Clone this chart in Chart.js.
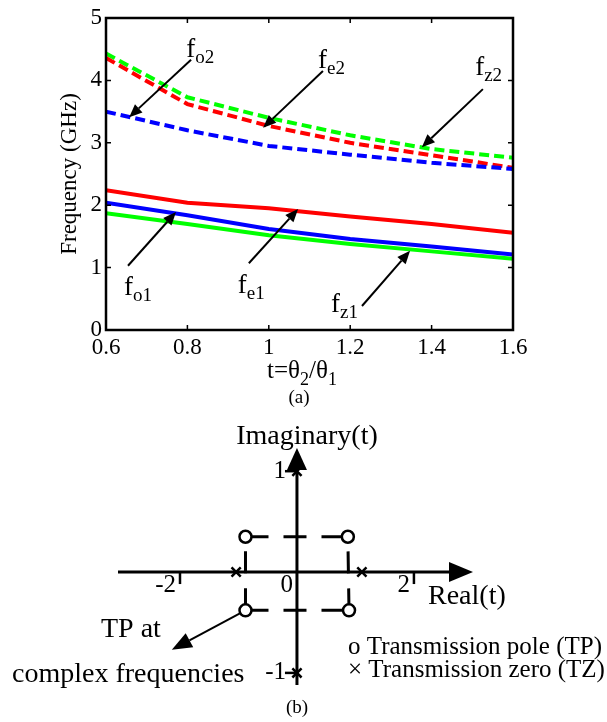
<!DOCTYPE html>
<html>
<head>
<meta charset="utf-8">
<script src="https://cdn.jsdelivr.net/npm/chart.js@4.4.1/dist/chart.umd.min.js"></script>
<style>
  html, body { margin: 0; padding: 0; background: #fff; }
  #wrapA { position: absolute; left: 0; top: 0; width: 607px; height: 410px; }
  #wrapB { position: absolute; left: 0; top: 400px; width: 607px; height: 322px; }
</style>
</head>
<body>
<div id="wrapA"><canvas id="freq"></canvas></div>
<div id="wrapB"><canvas id="plane"></canvas></div>
<script>
// (a) resonant frequencies vs t = theta2/theta1
var ratio = [0.6, 0.8, 1.0, 1.2, 1.4, 1.6];
var fo1 = [2.04, 1.84, 1.62, 1.46, 1.34, 1.21];
var fe1 = [2.24, 2.04, 1.95, 1.82, 1.70, 1.56];
var fz1 = [1.87, 1.70, 1.52, 1.38, 1.26, 1.14];
var fo2 = [3.50, 3.20, 2.95, 2.81, 2.68, 2.58];
var fe2 = [4.36, 3.62, 3.27, 3.00, 2.80, 2.60];
var fz2 = [4.43, 3.73, 3.40, 3.12, 2.90, 2.76];
var xTicks = [0.6, 0.8, 1, 1.2, 1.4, 1.6];
var yTicks = [0, 1, 2, 3, 4, 5];

// (b) poles and zeros in the t plane
var poleRe = [-0.88, 0.87, -0.88, 0.89];
var poleIm = [0.35, 0.35, -0.38, -0.38];
var zeroRe = [-1.04, 1.11, 0, 0];
var zeroIm = [0, 0, 1, -1];
var realTicks = [-2, 0, 2];
var imagTicks = [1, -1];

var SERIF = '"Liberation Serif", "Times New Roman", serif';

function pts(xs, ys) {
  return xs.map(function (x, i) { return { x: x, y: ys[i] }; });
}

function arrow(ctx, x1, y1, x2, y2, len, half) {
  var a = Math.atan2(y2 - y1, x2 - x1);
  var bx = x2 - len * Math.cos(a), by = y2 - len * Math.sin(a);
  ctx.beginPath();
  ctx.moveTo(x1, y1);
  ctx.lineTo(bx, by);
  ctx.stroke();
  ctx.beginPath();
  ctx.moveTo(x2, y2);
  ctx.lineTo(bx + half * Math.sin(a), by - half * Math.cos(a));
  ctx.lineTo(bx - half * Math.sin(a), by + half * Math.cos(a));
  ctx.closePath();
  ctx.fill();
}

// text pieces: [text, isSub]
function richText(ctx, parts, x, y, size, subSize, drop, align) {
  var w = 0;
  parts.forEach(function (p) {
    ctx.font = (p[1] ? subSize : size) + 'px ' + SERIF;
    w += ctx.measureText(p[0]).width;
  });
  var cx = align === 'center' ? x - w / 2 : x;
  ctx.textAlign = 'left';
  ctx.textBaseline = 'alphabetic';
  parts.forEach(function (p) {
    ctx.font = (p[1] ? subSize : size) + 'px ' + SERIF;
    ctx.fillText(p[0], cx, p[1] ? y + drop : y);
    cx += ctx.measureText(p[0]).width;
  });
}

// callouts in data coordinates: label anchor, arrow tail, arrow tip
var callouts = [
  { sub: 'o2', at: [0.797, 4.375], from: [0.809, 4.33], to: [0.657, 3.41] },
  { sub: 'e2', at: [1.121, 4.20], from: [1.133, 4.15], to: [0.986, 3.24] },
  { sub: 'z2', at: [1.507, 4.09], from: [1.526, 3.86], to: [1.376, 2.93] },
  { sub: 'o1', at: [0.644, 0.56], from: [0.654, 1.03], to: [0.772, 1.89] },
  { sub: 'e1', at: [0.924, 0.59], from: [0.951, 1.07], to: [1.072, 1.94] },
  { sub: 'z1', at: [1.153, 0.29], from: [1.229, 0.385], to: [1.347, 1.27] }
];

var freqDecor = {
  id: 'freqDecor',
  afterDraw: function (chart) {
    var ctx = chart.ctx, a = chart.chartArea;
    var xs = chart.scales.x, ys = chart.scales.y;
    ctx.save();
    ctx.strokeStyle = '#000';
    ctx.fillStyle = '#000';
    ctx.lineWidth = 2.5;
    ctx.strokeRect(a.left, a.top, a.right - a.left, a.bottom - a.top);
    ctx.lineWidth = 1.5;
    xTicks.forEach(function (v) {
      var px = xs.getPixelForValue(v);
      ctx.beginPath();
      ctx.moveTo(px, a.bottom); ctx.lineTo(px, a.bottom - 5);
      ctx.moveTo(px, a.top); ctx.lineTo(px, a.top + 5);
      ctx.stroke();
    });
    yTicks.forEach(function (v) {
      var py = ys.getPixelForValue(v);
      ctx.beginPath();
      ctx.moveTo(a.left, py); ctx.lineTo(a.left + 5, py);
      ctx.moveTo(a.right, py); ctx.lineTo(a.right - 5, py);
      ctx.stroke();
    });

    // callouts
    ctx.lineWidth = 2;
    callouts.forEach(function (c) {
      arrow(ctx, xs.getPixelForValue(c.from[0]), ys.getPixelForValue(c.from[1]),
        xs.getPixelForValue(c.to[0]), ys.getPixelForValue(c.to[1]), 13, 5.5);
      richText(ctx, [['f', false], [c.sub, true]],
        xs.getPixelForValue(c.at[0]), ys.getPixelForValue(c.at[1]), 27, 19, 6, 'left');
    });

    // axis titles
    ctx.save();
    ctx.translate(70, (a.top + a.bottom) / 2);
    ctx.rotate(-Math.PI / 2);
    ctx.font = '23px ' + SERIF;
    ctx.textAlign = 'center';
    ctx.textBaseline = 'middle';
    ctx.fillText('Frequency (GHz)', 0, 0);
    ctx.restore();

    richText(ctx, [['t=\u03b8', false], ['2', true], ['/\u03b8', false], ['1', true]],
      302, 378, 25, 18, 7, 'center');

    ctx.font = '19px ' + SERIF;
    ctx.textAlign = 'center';
    ctx.textBaseline = 'middle';
    ctx.fillText('(a)', 299, 398);
    ctx.restore();
  }
};

var tickFont = { family: SERIF, size: 23 };

new Chart(document.getElementById('freq'), {
  type: 'line',
  data: {
    datasets: [
      { label: 'fo1', data: pts(ratio, fo1), borderColor: '#0000ff' },
      { label: 'fe1', data: pts(ratio, fe1), borderColor: '#ff0000' },
      { label: 'fz1', data: pts(ratio, fz1), borderColor: '#00ff00' },
      { label: 'fo2', data: pts(ratio, fo2), borderColor: '#0000ff', borderDash: [10, 5] },
      { label: 'fe2', data: pts(ratio, fe2), borderColor: '#ff0000', borderDash: [10, 5] },
      { label: 'fz2', data: pts(ratio, fz2), borderColor: '#00ff00', borderDash: [10, 5] }
    ]
  },
  options: {
    responsive: true,
    maintainAspectRatio: false,
    animation: false,
    elements: {
      line: { borderWidth: 4, tension: 0, fill: false, borderCapStyle: 'butt' },
      point: { radius: 0 }
    },
    layout: { padding: { left: 0, right: 94, top: 18, bottom: 0 } },
    plugins: { legend: { display: false }, tooltip: { enabled: false } },
    scales: {
      x: {
        type: 'linear', min: 0.6, max: 1.6,
        afterBuildTicks: function (s) { s.ticks = xTicks.map(function (v) { return { value: v }; }); },
        afterFit: function (s) { s.height = 80; },
        grid: { display: false, drawTicks: false },
        border: { display: false },
        ticks: { font: tickFont, color: '#000', padding: 4, maxRotation: 0, autoSkip: false,
          callback: function (v) { return String(v); } }
      },
      y: {
        type: 'linear', min: 0, max: 5,
        afterBuildTicks: function (s) { s.ticks = yTicks.map(function (v) { return { value: v }; }); },
        afterFit: function (s) { s.width = 106; },
        grid: { display: false, drawTicks: false },
        border: { display: false },
        ticks: { font: tickFont, color: '#000', padding: 4,
          callback: function (v) { return String(v); } }
      }
    }
  },
  plugins: [freqDecor]
});

// (b) pole-zero plane
var connectors = [
  [0, 1], [2, 3], [2, 0], [3, 1]
].map(function (p) {
  var vertical = poleRe[p[0]] * poleRe[p[1]] > 0;
  return {
    data: [{ x: poleRe[p[0]], y: poleIm[p[0]] }, { x: poleRe[p[1]], y: poleIm[p[1]] }],
    borderColor: '#000', borderWidth: 3,
    borderDash: vertical ? [22, 15] : [23, 15],
    showLine: true, pointRadius: 0, order: 3
  };
});

var planeDecor = {
  id: 'planeDecor',
  beforeDatasetsDraw: function (chart) {
    var ctx = chart.ctx, a = chart.chartArea;
    var xs = chart.scales.x, ys = chart.scales.y;
    var x0 = xs.getPixelForValue(0), y0 = ys.getPixelForValue(0);
    ctx.save();
    ctx.strokeStyle = '#000';
    ctx.fillStyle = '#000';
    ctx.lineWidth = 3;
    arrow(ctx, a.left, y0, a.right, y0, 24, 10);
    arrow(ctx, x0, a.bottom, x0, a.top, 22, 10);

    ctx.lineWidth = 2.5;
    ctx.font = '25px ' + SERIF;
    ctx.textAlign = 'right';
    ctx.textBaseline = 'middle';
    realTicks.forEach(function (v) {
      var px = xs.getPixelForValue(v);
      if (v !== 0) {
        ctx.beginPath(); ctx.moveTo(px, y0); ctx.lineTo(px, y0 + 12); ctx.stroke();
      }
      ctx.fillText(String(v), px - 4, y0 + 13);
    });
    imagTicks.forEach(function (v) {
      var py = ys.getPixelForValue(v);
      ctx.beginPath(); ctx.moveTo(x0 - 12, py); ctx.lineTo(x0, py); ctx.stroke();
      ctx.fillText(String(v), x0 - 11, py);
    });

    // arrow to complex-frequency pole
    ctx.lineWidth = 2;
    arrow(ctx, xs.getPixelForValue(poleRe[2]), ys.getPixelForValue(poleIm[2]),
      xs.getPixelForValue(-2.14), ys.getPixelForValue(-0.77), 20, 8);
    ctx.restore();
  },
  afterDraw: function (chart) {
    var ctx = chart.ctx;
    ctx.save();
    ctx.fillStyle = '#000';
    ctx.textBaseline = 'middle';
    ctx.textAlign = 'center';
    ctx.font = '28px ' + SERIF;
    ctx.fillText('Imaginary(t)', 307, 37);
    ctx.textAlign = 'left';
    ctx.fillText('Real(t)', 428, 197);
    ctx.fillText('TP at', 101, 230);
    ctx.fillText('complex frequencies', 12, 275);
    ctx.font = '25px ' + SERIF;
    ctx.fillText('o Transmission pole (TP)', 348, 247);
    ctx.fillText('\u00d7 Transmission zero (TZ)', 348, 270);
    ctx.textAlign = 'center';
    ctx.font = '19px ' + SERIF;
    ctx.fillText('(b)', 297, 308);
    ctx.restore();
  }
};

new Chart(document.getElementById('plane'), {
  type: 'scatter',
  data: {
    datasets: connectors.concat([
      { label: 'TP', data: pts(poleRe, poleIm), pointStyle: 'circle', pointRadius: 6,
        borderColor: '#000', backgroundColor: '#fff', borderWidth: 2.5, order: 1 },
      { label: 'TZ', data: pts(zeroRe, zeroIm), pointStyle: 'crossRot', pointRadius: 6.5,
        borderColor: '#000', borderWidth: 2.5, order: 2 }
    ])
  },
  options: {
    responsive: true,
    maintainAspectRatio: false,
    animation: false,
    layout: { padding: { left: 118, right: 134, top: 48, bottom: 37 } },
    plugins: { legend: { display: false }, tooltip: { enabled: false } },
    scales: {
      x: { type: 'linear', min: -3.06, max: 3.01, display: false },
      y: { type: 'linear', min: -1.12, max: 1.23, display: false }
    }
  },
  plugins: [planeDecor]
});
</script>
</body>
</html>
